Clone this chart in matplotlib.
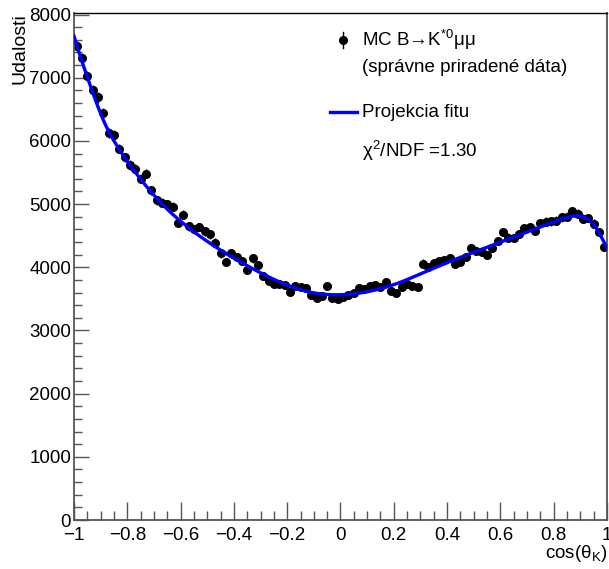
import numpy as np
import matplotlib
matplotlib.use("Agg")
import matplotlib.pyplot as plt
from matplotlib.lines import Line2D
from matplotlib.ticker import MultipleLocator

plt.rcParams['font.family'] = ['Liberation Sans', 'DejaVu Sans']
plt.rcParams['mathtext.fontset'] = 'custom'
plt.rcParams['mathtext.rm'] = 'Liberation Sans'
plt.rcParams['mathtext.it'] = 'Liberation Sans'
plt.rcParams['mathtext.default'] = 'regular'

# MC histogram: 100 bins in cos(theta_K)
bin_centers = np.round(np.arange(-0.99, 1.0, 0.02), 2)
counts = [
    7500, 7310, 7030, 6800, 6690, 6440, 6120, 6090, 5880, 5740,
    5620, 5560, 5400, 5480, 5220, 5060, 5020, 5000, 4960, 4700,
    4830, 4650, 4600, 4640, 4570, 4520, 4390, 4220, 4080, 4220,
    4160, 4100, 3960, 4140, 4040, 3860, 3780, 3740, 3740, 3720,
    3610, 3700, 3690, 3680, 3560, 3520, 3540, 3700, 3510, 3500,
    3530, 3560, 3600, 3680, 3650, 3700, 3720, 3690, 3760, 3630,
    3600, 3690, 3740, 3700, 3690, 4060, 4010, 4070, 4100, 4120,
    4150, 4060, 4080, 4160, 4310, 4260, 4250, 4190, 4300, 4420,
    4560, 4470, 4460, 4530, 4620, 4640, 4580, 4700, 4720, 4730,
    4740, 4790, 4800, 4890, 4850, 4770, 4780, 4690, 4560, 4320,
]

# fit projection
fit_x = [-1.00] + list(bin_centers) + [1.00]
fit_y = [
    7660,
    7520, 7260, 7010, 6770, 6540, 6330, 6150, 6000, 5865, 5740,
    5620, 5505, 5395, 5290, 5190, 5095, 5005, 4920, 4840, 4765,
    4695, 4628, 4563, 4500, 4440, 4382, 4326, 4272, 4220, 4170,
    4121, 4073, 4026, 3980, 3935, 3891, 3849, 3809, 3771, 3735,
    3702, 3672, 3645, 3622, 3603, 3588, 3577, 3570, 3566, 3565,
    3567, 3572, 3580, 3591, 3605, 3621, 3640, 3661, 3684, 3712,
    3740, 3772, 3806, 3841, 3877, 3913, 3949, 3985, 4020, 4055,
    4090, 4124, 4157, 4190, 4222, 4254, 4286, 4318, 4350, 4382,
    4414, 4446, 4478, 4510, 4542, 4574, 4606, 4638, 4670, 4702,
    4732, 4762, 4788, 4808, 4815, 4800, 4755, 4675, 4550, 4390,
    4300,
]


def xtick_fmt(v, pos):
    if abs(v) < 1e-9:
        return '0'
    if abs(abs(v) - 1) < 1e-9:
        return '\u22121' if v < 0 else '1'
    return f'{v:.1f}'.replace('-', '\u2212')


fig = plt.figure(figsize=(6.09, 5.69), dpi=100)
ax = fig.add_axes([0.1215, 0.0861, 0.8752, 0.8916])

ax.errorbar(bin_centers, counts, yerr=np.sqrt(counts), fmt='o', color='black',
            markersize=5.5, elinewidth=1, capsize=0, zorder=2)
ax.plot(fit_x, fit_y, color='#0000ff', lw=2.4, zorder=3)

ax.set_xlim(-1, 1)
ax.set_ylim(0, 8030)

ax.xaxis.set_major_locator(MultipleLocator(0.2))
ax.xaxis.set_minor_locator(MultipleLocator(0.05))
ax.yaxis.set_major_locator(MultipleLocator(1000))
ax.yaxis.set_minor_locator(MultipleLocator(200))
ax.xaxis.set_major_formatter(plt.FuncFormatter(xtick_fmt))

ax.tick_params(axis='x', which='major', direction='in', length=13, width=1, color='#555555', labelsize=13.5, pad=5)
ax.tick_params(axis='x', which='minor', direction='in', length=6.5, width=1, color='#555555')
ax.tick_params(axis='y', which='major', direction='in', length=11, width=1, color='#555555', labelsize=13.5, pad=2)
ax.tick_params(axis='y', which='minor', direction='in', length=5.5, width=1, color='#555555')
for side in ['left', 'bottom', 'right']:
    ax.spines[side].set_color('#555555')
    ax.spines[side].set_linewidth(1.3)
ax.spines['top'].set_color('black')
ax.spines['top'].set_linewidth(1)

ax.set_xlabel(r'cos($\theta_{K}$)', fontsize=13.5, loc='right')
ax.xaxis.set_label_coords(1.0, -0.045)
ax.set_ylabel('Udalosti', fontsize=14, loc='top')
ax.yaxis.set_label_coords(-0.085, 1.0)

# legend drawn by hand, ROOT style
tx = 0.540
ax.add_line(Line2D([0.505], [0.946], marker='o', color='black', markersize=5.5,
                   transform=ax.transAxes))
ax.add_line(Line2D([0.505, 0.505], [0.930, 0.962], color='black', lw=1,
                   transform=ax.transAxes))
ax.text(tx, 0.946, r'MC B→K$^{*0}$μμ', transform=ax.transAxes,
        fontsize=13.5, va='center', ha='left')
ax.text(tx, 0.891, '(správne priradené dáta)', transform=ax.transAxes,
        fontsize=13.5, va='center', ha='left')
ax.add_line(Line2D([0.480, 0.531], [0.804, 0.804], color='#0000ff', lw=2.4,
                   transform=ax.transAxes))
ax.text(tx, 0.804, 'Projekcia fitu', transform=ax.transAxes,
        fontsize=13.5, va='center', ha='left')
ax.text(tx, 0.727, r'χ$^{2}$/NDF =1.30', transform=ax.transAxes,
        fontsize=13.5, va='center', ha='left')

fig.savefig('out.png', dpi=100)
